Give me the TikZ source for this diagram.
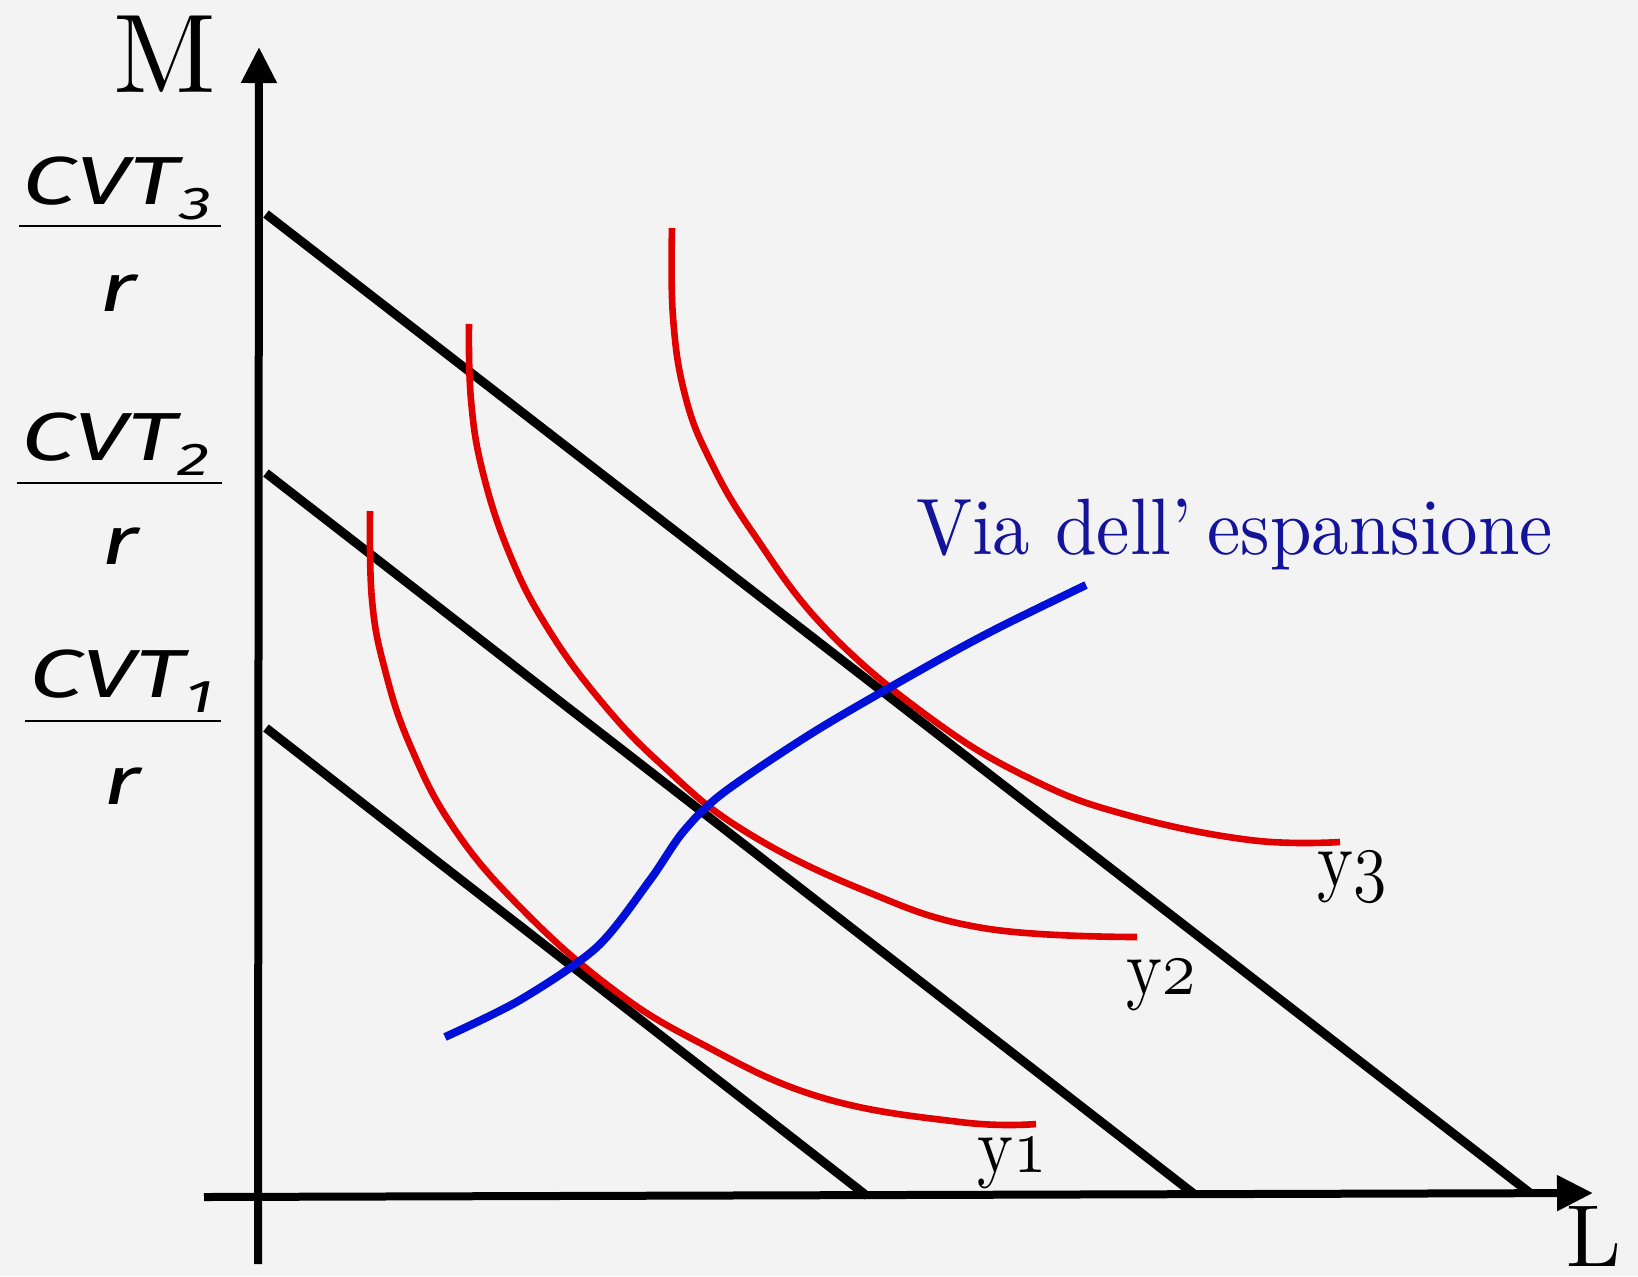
\RequirePackage{fix-cm}
\documentclass[tikz,border=0pt]{standalone}
\usepackage{fontspec}
\newfontfamily\handfont{Fira Sans}
\newfontfamily\lmten{lmroman10-regular.otf}
\usetikzlibrary{arrows.meta}
\definecolor{paper}{HTML}{F3F3F3}
\definecolor{isored}{HTML}{E00000}
\definecolor{pathblue}{HTML}{0010D8}
\definecolor{textblue}{HTML}{14149A}
\newcommand\osnum[1]{{\fontencoding{OML}\fontfamily{cmm}\fontseries{m}\fontshape{it}\selectfont #1}}
\newcommand\cvtlabel[1]{\scalebox{1.42}[1]{\handfont\itshape\fontsize{34}{34}\selectfont CVT\raisebox{-7.5pt}{\fontsize{23}{23}\selectfont #1}}}
\newcommand\rlabel{\scalebox{1.42}[1]{\handfont\itshape\fontsize{34}{34}\selectfont r}}
\newcommand\ylabel[1]{\scalebox{0.85}[1]{\fontsize{40}{40}\selectfont\lmten y\osnum{#1}}}
\begin{document}
\begin{tikzpicture}[x=0.5pt,y=-0.5pt]
\tikzset{
 budget/.style={line width=4.5pt, black},
 axisline/.style={line width=4pt, black, -{Triangle[length=18pt,width=17pt]}},
 iso/.style={line width=3.3pt, isored, line join=round},
 expan/.style={line width=4pt, pathblue, line join=round},
 fracbar/.style={line width=0.8pt, black},
 lbl/.style={inner sep=0pt, outer sep=0pt}
}
\fill[paper] (0,0) rectangle (1638,1276);
\useasboundingbox (0,0) rectangle (1638,1276);

% axes
\coordinate (yb) at (258,1264);
\coordinate (yt) at (259,47);
\coordinate (xl) at (204,1197);
\coordinate (xr) at (1593,1193);
\draw[axisline] (yb) -- (yt);
\draw[axisline] (xl) -- (xr);

% budget lines
\coordinate (a3) at (266,214); \coordinate (e3) at (1530,1193);
\coordinate (a2) at (266,473); \coordinate (e2) at (1194,1194);
\coordinate (a1) at (266,728); \coordinate (e1) at (867,1196);
\draw[budget] (a3) -- (e3);
\draw[budget] (a2) -- (e2);
\draw[budget] (a1) -- (e1);

% isoquants
\draw[iso] plot[smooth, tension=0.7] coordinates {(672,228) (673,317) (685,395) (710,460) (753,533) (827,630) (933,720) (1033,780) (1127,815) (1250,840) (1340,842)};
\draw[iso] plot[smooth, tension=0.7] coordinates {(469,324) (471,400) (483,473) (510,555) (547,627) (600,700) (662,765) (743,830) (863,890) (983,928) (1137,937)};
\draw[iso] plot[smooth, tension=0.7] coordinates {(370,511) (372,600) (385,670) (410,745) (453,827) (520,907) (610,987) (700,1043) (820,1097) (960,1122) (1036,1124)};

% expansion path
\draw[expan] plot[smooth, tension=0.5] coordinates {(445,1037) (520,1000) (597,947) (650,880) (683,832) (723,793) (817,730) (933,663) (1000,627) (1086,585)};

% labels
\node[lbl, anchor=base] (mlab) at (165,92) {\lmten\fontsize{56}{56}\selectfont M};
\node[lbl, anchor=base west] (llab) at (1566,1266) {\lmten\fontsize{44}{44}\selectfont L};
\node[lbl, anchor=base west, text=textblue] (via) at (916,554) {\scalebox{0.935}[1]{\lmten\fontsize{40}{40}\selectfont Via dell’\hspace{8pt}espansione}};
\node[lbl, anchor=base] (y1) at (1012,1172) {\ylabel{1}};
\node[lbl, anchor=base] (y2) at (1161,994) {\ylabel{2}};
\node[lbl, anchor=base] (y3) at (1352,886) {\ylabel{3}};

% fractions
\node[lbl, anchor=base west] (c3) at (23,204) {\cvtlabel{3}};
\coordinate (b3l) at (19,226); \coordinate (b3r) at (221,226);
\draw[fracbar] (b3l) -- (b3r);
\node[lbl, anchor=base] (r3) at (118,311) {\rlabel};

\node[lbl, anchor=base west] (c2) at (21,460) {\cvtlabel{2}};
\coordinate (b2l) at (17,483); \coordinate (b2r) at (222,483);
\draw[fracbar] (b2l) -- (b2r);
\node[lbl, anchor=base] (r2) at (120,564) {\rlabel};

\node[lbl, anchor=base west] (c1) at (29,697) {\cvtlabel{1}};
\coordinate (b1l) at (25,721); \coordinate (b1r) at (221,721);
\draw[fracbar] (b1l) -- (b1r);
\node[lbl, anchor=base] (r1) at (122,804) {\rlabel};
\end{tikzpicture}
\end{document}
